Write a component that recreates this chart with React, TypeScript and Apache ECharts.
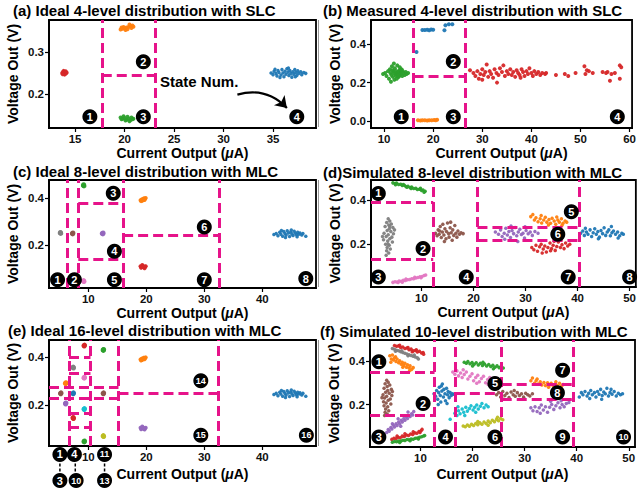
import React, { useEffect, useRef } from 'react';
import * as echarts from 'echarts';

const FONT = '"Liberation Sans", Arial, Helvetica, sans-serif';
const MAG = '#e6138a';
const COL: Record<string, string> = {
  blue: '#1f77b4', orange: '#ff7f0e', green: '#2ca02c', red: '#d62728', purple: '#9467bd',
  brown: '#8c564b', pink: '#e377c2', gray: '#7f7f7f', olive: '#bcbd22', cyan: '#17becf',
};

// ---------- titles & ticks ----------
const titles = [
  '(a) Ideal 4-level distribution with SLC',
  '(b) Measured 4-level distribution with SLC',
  '(c) Ideal 8-level distribution with MLC',
  '(d)Simulated 8-level distribution with MLC',
  '(e) Ideal 16-level distribution with MLC',
  '(f) Simulated 10-level distribution with MLC',
];
const xTicksA = [15, 20, 25, 30, 35];
const yTicksA = [0.2, 0.3];
const xTicksB = [10, 20, 30, 40, 50, 60];
const yTicksB = [0.0, 0.2, 0.4];
const xTicksC = [10, 20, 30, 40];
const yTicksC = [0.2, 0.4];
const xTicksD = [10, 20, 30, 40, 50];
const yTicksD = [0.2, 0.4];
const xTicksE = [10, 20, 30, 40];
const yTicksE = [0.2, 0.4];
const xTicksF = [10, 20, 30, 40, 50];
const yTicksF = [0.2, 0.4];

// ---------- panel (a) ----------
const aRed = [[13.7,0.250],[13.8,0.253],[13.9,0.248],[14.0,0.252],[14.1,0.249],[13.85,0.255],[13.95,0.246],[14.05,0.254],[13.75,0.247],[14.15,0.251]];
const aOrange = [[19.6,0.354],[19.8,0.356],[20.0,0.357],[20.2,0.359],[20.4,0.360],[20.6,0.362],[20.8,0.364],[19.9,0.360],[20.3,0.355],[20.5,0.366],[20.1,0.353],[20.7,0.358],[19.7,0.359],[20.9,0.361]];
const aGreen = [[19.6,0.143],[19.8,0.140],[20.0,0.142],[20.2,0.138],[20.4,0.141],[20.6,0.137],[20.8,0.139],[19.9,0.146],[20.3,0.145],[20.5,0.134],[20.1,0.136],[20.7,0.143],[19.7,0.139],[20.9,0.140]];
const aBlue = [[34.8,0.250],[35.0,0.246],[35.1,0.254],[35.3,0.249],[35.4,0.243],[35.5,0.256],[35.6,0.251],[35.8,0.245],[35.9,0.258],[36.0,0.250],[36.1,0.241],[36.2,0.254],[36.3,0.247],[36.4,0.260],[36.5,0.252],[36.6,0.244],[36.7,0.256],[36.8,0.249],[36.9,0.240],[37.0,0.253],[37.1,0.247],[37.2,0.258],[37.3,0.251],[37.4,0.244],[37.5,0.255],[37.6,0.249],[37.8,0.253],[37.9,0.246],[38.1,0.251],[38.3,0.249],[35.2,0.259],[35.7,0.239],[36.55,0.262],[37.25,0.241]];
const aBadges = [[16.5,0.145,'1'],[21.9,0.277,'2'],[21.9,0.145,'3'],[37.4,0.145,'4']];
const aFullX = [17.7, 23.1];
const aSegs = [[17.7, 23.1, 0.2456]];
const aArrow = [[31.4, 0.198], [36.4, 0.166]];

// ---------- panel (b) ----------
const bGreen = [[9.8,0.245],[10.5,0.235],[10.8,0.26],[11.0,0.22],[11.2,0.27],[11.3,0.25],[11.5,0.24],[11.6,0.285],[11.8,0.23],[11.9,0.26],[12.0,0.25],[12.1,0.215],[12.2,0.275],[12.3,0.245],[12.4,0.235],[12.5,0.26],[12.6,0.25],[12.7,0.29],[12.8,0.24],[12.9,0.255],[13.0,0.23],[13.1,0.265],[13.2,0.25],[13.3,0.24],[13.4,0.27],[13.5,0.245],[13.6,0.255],[13.7,0.235],[13.8,0.26],[14.0,0.25],[14.2,0.24],[14.4,0.255],[14.6,0.245],[12.0,0.3],[11.4,0.205],[12.6,0.22],[13.2,0.28],[11.7,0.265],[12.9,0.232],[13.6,0.268],[14.9,0.25],[10.2,0.25]];
const bBlue = [[16.6,0.36],[17.8,0.475],[18.3,0.475],[18.8,0.476],[19.2,0.474],[19.6,0.477],[20.0,0.476],[22.3,0.474],[22.5,0.5],[23.2,0.505],[23.9,0.505]];
const bOrange = [[16.9,0.003],[17.4,0.002],[17.8,0.004],[18.3,0.003],[18.8,0.002],[19.2,0.004],[19.7,0.003],[20.2,0.005],[20.8,0.006],[20.5,0.003]];
const bRed = [[27.5,0.265],[28.2,0.25],[28.6,0.235],[29.0,0.26],[29.3,0.22],[29.6,0.245],[30.0,0.27],[30.3,0.24],[30.6,0.255],[30.9,0.295],[31.2,0.23],[31.5,0.26],[31.8,0.245],[32.2,0.225],[32.5,0.27],[32.9,0.25],[33.3,0.24],[33.6,0.275],[34.0,0.255],[34.3,0.29],[34.6,0.235],[35.0,0.26],[35.3,0.245],[35.7,0.27],[36.0,0.24],[36.3,0.255],[36.7,0.23],[37.0,0.265],[37.3,0.25],[37.6,0.24],[38.0,0.27],[38.3,0.255],[38.6,0.235],[39.0,0.26],[39.3,0.245],[39.6,0.275],[40.0,0.25],[40.3,0.235],[40.6,0.26],[41.0,0.245],[41.4,0.255],[41.8,0.24],[42.2,0.25],[42.8,0.245],[45.0,0.24],[46.8,0.245],[47.5,0.235],[49.0,0.25],[50.8,0.285],[51.0,0.245],[51.3,0.265],[51.7,0.26],[52.5,0.25],[54.5,0.255],[55.2,0.25],[55.5,0.255],[56.0,0.21],[56.3,0.245],[57.0,0.25],[58.0,0.29],[58.3,0.28],[58.0,0.22],[33.0,0.2],[37.8,0.225],[30.0,0.215],[43.0,0.25]];
const bBadges = [[13.5,0.022,'1'],[24.1,0.31,'2'],[24.1,0.022,'3'],[57.5,0.022,'4']];
const bFullX = [16.0, 26.5];
const bSegs = [[16.0, 26.5, 0.235]];

// ---------- panel (c) ----------
const cGray = [[5.15,0.252],[5.25,0.25],[5.2,0.254]];
const cBrown = [[7.25,0.25],[7.35,0.252],[7.3,0.248]];
const cPurple = [[12.4,0.25],[12.55,0.252],[12.5,0.248]];
const cGreen = [[9.15,0.452],[9.25,0.45],[9.2,0.455]];
const cPink = [[9.15,0.049],[9.25,0.047],[9.2,0.051]];
const cOrange = [[19.0,0.39],[19.2,0.393],[19.4,0.395],[19.6,0.398],[19.8,0.396],[19.3,0.388],[19.7,0.391],[19.9,0.399],[19.1,0.386],[19.5,0.392]];
const cRed = [[19.0,0.112],[19.2,0.108],[19.4,0.114],[19.6,0.106],[19.8,0.11],[19.3,0.117],[19.7,0.103],[19.9,0.112],[19.1,0.105],[19.5,0.11]];
const cBlue = [[42.0,0.245],[42.4,0.25],[42.7,0.24],[43.0,0.255],[43.2,0.247],[43.5,0.238],[43.7,0.258],[43.9,0.25],[44.1,0.243],[44.3,0.261],[44.5,0.252],[44.7,0.237],[44.9,0.256],[45.1,0.248],[45.3,0.241],[45.5,0.259],[45.7,0.251],[45.9,0.244],[46.1,0.255],[46.3,0.247],[46.5,0.252],[46.8,0.243],[47.0,0.25],[47.5,0.238],[43.3,0.262],[44.0,0.233],[45.0,0.264],[46.0,0.236]];
const cBadges = [[4.7,0.055,'1'],[7.6,0.055,'2'],[14.3,0.419,'3'],[14.5,0.175,'4'],[14.5,0.055,'5'],[30,0.277,'6'],[30,0.055,'7'],[47.5,0.06,'8']];
const cFullX = [6.44, 8.27, 16.0, 32.6];
const cSegs = [[8.27, 16.0, 0.379], [8.27, 16.0, 0.141], [16.0, 32.6, 0.242]];

// ---------- panel (d) ----------
const dGreen = [[4.5,0.478],[4.9,0.475],[5.2,0.477],[5.6,0.471],[6.0,0.472],[6.3,0.466],[6.7,0.467],[7.0,0.462],[7.4,0.463],[7.8,0.457],[8.1,0.459],[8.5,0.452],[8.9,0.454],[9.2,0.448],[9.6,0.449],[10.0,0.444],[10.3,0.446],[10.7,0.44],[5.0,0.47],[6.5,0.471],[8.0,0.453],[9.8,0.453],[7.2,0.458],[10.5,0.436]];
const dGray = [[3.6,0.315],[3.9,0.305],[3.3,0.298],[4.2,0.292],[3.7,0.287],[3.0,0.28],[4.5,0.276],[3.8,0.27],[3.4,0.262],[4.1,0.258],[2.8,0.25],[4.6,0.247],[3.6,0.243],[3.2,0.235],[4.3,0.232],[3.9,0.225],[2.7,0.22],[3.5,0.214],[4.4,0.21],[3.1,0.2],[3.8,0.195],[3.4,0.185],[4.0,0.178],[3.3,0.17],[3.7,0.16],[3.2,0.15],[4.8,0.265],[2.5,0.235],[3.9,0.28],[3.6,0.2]];
const dPink = [[4.5,0.027],[4.9,0.03],[5.3,0.029],[5.7,0.033],[6.1,0.032],[6.5,0.036],[6.9,0.035],[7.3,0.039],[7.7,0.04],[8.1,0.043],[8.5,0.044],[8.9,0.047],[9.3,0.049],[9.7,0.052],[10.1,0.054],[10.5,0.058],[10.8,0.06],[5.5,0.026],[7.0,0.042],[8.7,0.05],[9.9,0.048],[6.3,0.028]];
const dBrown = [[12.7,0.25],[13.0,0.238],[13.2,0.265],[13.4,0.245],[13.6,0.28],[13.8,0.23],[14.0,0.255],[14.1,0.29],[14.3,0.242],[14.5,0.27],[14.7,0.225],[14.8,0.258],[15.0,0.296],[15.2,0.248],[15.3,0.232],[15.5,0.275],[15.7,0.252],[15.9,0.218],[16.0,0.265],[16.2,0.24],[16.4,0.285],[16.6,0.25],[16.8,0.232],[17.0,0.26],[17.3,0.245],[17.6,0.252],[18.0,0.248],[14.4,0.212],[15.6,0.3],[13.5,0.26]];
const dPurple = [[24.2,0.255],[24.8,0.245],[25.2,0.265],[25.5,0.235],[25.9,0.25],[26.2,0.272],[26.5,0.242],[26.8,0.258],[27.1,0.23],[27.4,0.262],[27.7,0.248],[28.0,0.276],[28.3,0.238],[28.6,0.255],[28.9,0.268],[29.2,0.244],[29.5,0.25],[29.8,0.228],[30.1,0.262],[30.5,0.247],[30.9,0.255],[31.3,0.24],[31.8,0.258],[32.4,0.25],[26.0,0.222],[28.5,0.212],[27.2,0.282],[29.9,0.279]];
const dOrange = [[31.0,0.325],[31.4,0.335],[31.7,0.31],[32.0,0.32],[32.4,0.302],[32.8,0.315],[33.1,0.296],[33.5,0.31],[33.8,0.322],[34.1,0.3],[34.5,0.312],[34.8,0.295],[35.1,0.318],[35.5,0.305],[35.8,0.29],[36.2,0.31],[36.5,0.3],[36.9,0.315],[37.2,0.295],[37.6,0.305],[37.9,0.3],[33.0,0.33],[34.4,0.287],[36.0,0.323],[37.0,0.286]];
const dRed = [[31.2,0.185],[31.6,0.175],[32.0,0.195],[32.3,0.168],[32.7,0.188],[33.0,0.2],[33.4,0.178],[33.7,0.192],[34.0,0.165],[34.3,0.185],[34.7,0.205],[35.0,0.18],[35.3,0.195],[35.7,0.172],[36.0,0.19],[36.3,0.21],[36.7,0.185],[37.0,0.198],[37.4,0.18],[37.7,0.205],[38.1,0.192],[38.5,0.2],[33.2,0.16],[35.5,0.213],[36.8,0.218],[34.8,0.17]];
const dBlue = [[40.6,0.25],[41.0,0.26],[41.3,0.24],[41.7,0.255],[42.0,0.245],[42.4,0.265],[42.7,0.235],[43.0,0.252],[43.3,0.27],[43.6,0.245],[43.9,0.258],[44.2,0.232],[44.5,0.262],[44.8,0.248],[45.1,0.275],[45.4,0.24],[45.7,0.255],[46.0,0.265],[46.3,0.238],[46.6,0.252],[46.9,0.26],[47.3,0.245],[47.7,0.255],[48.1,0.238],[48.5,0.25],[48.8,0.245],[41.5,0.272],[44.0,0.225],[46.5,0.28],[47.8,0.228]];
const dBadges = [[1.7,0.43,'1'],[10.3,0.18,'2'],[1.7,0.051,'3'],[18.6,0.051,'4'],[38.8,0.347,'5'],[36.2,0.245,'6'],[38.2,0.051,'7'],[50,0.051,'8']];
const dFullX = [12.25, 20.75, 40.3];
const dSegs = [[0.29, 12.25, 0.388], [0.29, 12.25, 0.132], [20.75, 40.3, 0.279], [20.75, 40.3, 0.218]];

// ---------- panel (e) ----------
const eRed1 = [[9.25,0.448],[9.35,0.45],[9.3,0.446]];
const eGray = [[7.35,0.357],[7.45,0.355],[7.4,0.359]];
const ePink = [[9.25,0.315],[9.35,0.317],[9.3,0.313]];
const eOrange = [[6.05,0.292],[6.15,0.294],[6.1,0.29]];
const eBrown1 = [[5.2,0.25],[5.3,0.252],[5.25,0.248]];
const eBlue1 = [[7.35,0.25],[7.45,0.252],[7.4,0.248]];
const ePurple1 = [[6.05,0.208],[6.15,0.21],[6.1,0.206]];
const eCyan = [[9.25,0.185],[9.35,0.187],[9.3,0.183]];
const eRed2 = [[7.35,0.148],[7.45,0.146],[7.4,0.15]];
const eGreen1 = [[9.25,0.051],[9.35,0.053],[9.3,0.049]];
const eGreen2 = [[12.55,0.43],[12.65,0.432],[12.6,0.428]];
const eBrown2 = [[12.55,0.25],[12.65,0.252],[12.6,0.248]];
const eOlive = [[12.55,0.073],[12.65,0.071],[12.6,0.075]];
const eOrange2 = [[19.0,0.39],[19.2,0.393],[19.4,0.395],[19.6,0.398],[19.8,0.396],[19.3,0.388],[19.7,0.391],[19.9,0.399],[19.1,0.386],[19.5,0.392]];
const ePurple2 = [[19.0,0.108],[19.2,0.104],[19.4,0.11],[19.6,0.102],[19.8,0.106],[19.3,0.113],[19.7,0.1],[19.9,0.108],[19.1,0.101],[19.5,0.106]];
const eBlue2 = [[42.0,0.245],[42.4,0.25],[42.7,0.24],[43.0,0.255],[43.2,0.247],[43.5,0.238],[43.7,0.258],[43.9,0.25],[44.1,0.243],[44.3,0.261],[44.5,0.252],[44.7,0.237],[44.9,0.256],[45.1,0.248],[45.3,0.241],[45.5,0.259],[45.7,0.251],[45.9,0.244],[46.1,0.255],[46.3,0.247],[46.5,0.252],[46.8,0.243],[47.0,0.25],[47.5,0.238],[43.3,0.262],[44.0,0.233],[45.0,0.264],[46.0,0.236]];
const eBadges = [[29.4,0.302,'14'],[29.4,0.077,'15'],[47.6,0.077,'16']];
const eBadgesBelow = [[5.1,-0.003,'1'],[5.1,-0.111,'3'],[7.6,-0.003,'4'],[7.9,-0.111,'10'],[12.8,-0.003,'11'],[12.8,-0.111,'13']];
const eConnectX = [5.1, 7.75, 12.8];
const eFullX = [6.67, 10.37, 15.2, 32.4];
const eSegs = [[6.67, 10.37, 0.40], [6.67, 10.37, 0.335], [3.22, 15.2, 0.275], [3.22, 15.2, 0.228], [6.67, 10.37, 0.167], [6.67, 10.37, 0.111], [15.2, 32.4, 0.25]];

// ---------- panel (f) ----------
const fRed1 = [[5.0,0.472],[5.4,0.468],[5.8,0.47],[6.2,0.463],[6.6,0.465],[7.0,0.458],[7.4,0.46],[7.8,0.452],[8.2,0.455],[8.6,0.447],[9.0,0.449],[9.4,0.442],[9.8,0.445],[10.2,0.437],[10.5,0.44],[6.0,0.473],[7.6,0.462],[9.2,0.452],[8.4,0.443],[10.6,0.432]];
const fGray = [[4.6,0.458],[5.0,0.454],[5.4,0.45],[5.8,0.448],[6.2,0.443],[6.6,0.44],[7.0,0.436],[7.4,0.433],[7.8,0.429],[8.2,0.426],[8.6,0.422],[9.0,0.419],[9.4,0.415],[5.2,0.445],[6.4,0.447],[7.6,0.425],[8.8,0.428],[9.6,0.41]];
const fOrange1 = [[4.1,0.425],[4.4,0.41],[4.6,0.428],[4.8,0.405],[5.0,0.415],[5.3,0.398],[5.5,0.41],[5.8,0.392],[6.0,0.402],[6.3,0.385],[6.5,0.395],[6.8,0.38],[7.0,0.39],[7.3,0.372],[7.5,0.383],[7.8,0.368],[8.0,0.378],[8.3,0.362],[8.6,0.37],[5.2,0.42],[6.6,0.372],[7.9,0.356],[4.3,0.395]];
const fBrown1 = [[3.5,0.312],[3.8,0.303],[3.2,0.296],[4.1,0.29],[3.6,0.283],[3.0,0.275],[4.4,0.27],[3.7,0.265],[3.3,0.257],[4.0,0.252],[2.8,0.245],[4.5,0.242],[3.5,0.238],[3.1,0.23],[4.2,0.226],[3.8,0.22],[2.9,0.213],[3.4,0.207],[4.3,0.203],[3.0,0.195],[3.7,0.19],[3.3,0.18],[3.9,0.172],[3.2,0.165],[3.6,0.157],[3.1,0.15],[4.6,0.26],[2.6,0.232]];
const fPurple1 = [[3.5,0.072],[3.8,0.085],[4.0,0.078],[4.3,0.095],[4.5,0.088],[4.8,0.105],[5.0,0.097],[5.3,0.112],[5.5,0.104],[5.8,0.12],[6.0,0.112],[6.3,0.128],[6.5,0.12],[6.8,0.136],[7.0,0.128],[7.3,0.143],[7.5,0.136],[7.8,0.15],[8.0,0.145],[8.3,0.158],[8.5,0.152],[4.6,0.112],[6.2,0.1],[7.6,0.166],[5.7,0.135],[8.7,0.168]];
const fRed2 = [[4.5,0.04],[4.9,0.045],[5.3,0.043],[5.7,0.05],[6.1,0.048],[6.5,0.055],[6.9,0.053],[7.3,0.06],[7.7,0.058],[8.1,0.065],[8.5,0.063],[8.9,0.07],[9.3,0.068],[9.7,0.076],[10.1,0.08],[10.3,0.086],[5.5,0.055],[7.0,0.066],[8.6,0.075],[9.9,0.072]];
const fGreen1 = [[4.6,0.027],[5.0,0.03],[5.4,0.029],[5.8,0.033],[6.2,0.032],[6.6,0.036],[7.0,0.035],[7.4,0.039],[7.8,0.038],[8.2,0.042],[8.6,0.041],[9.0,0.045],[9.4,0.046],[9.8,0.05],[10.2,0.052],[10.6,0.056],[10.8,0.058],[6.0,0.026],[8.0,0.034],[9.6,0.042]];
const fBlue1 = [[12.6,0.25],[12.9,0.238],[13.1,0.265],[13.3,0.225],[13.5,0.255],[13.6,0.28],[13.8,0.242],[13.9,0.212],[14.1,0.262],[14.2,0.295],[14.4,0.235],[14.5,0.27],[14.7,0.25],[14.8,0.218],[15.0,0.275],[15.2,0.245],[15.3,0.26],[15.5,0.232],[15.7,0.255],[15.9,0.242],[16.1,0.25],[16.4,0.248],[13.4,0.2],[14.0,0.285],[15.1,0.205]];
const fGreen2 = [[18.4,0.395],[18.8,0.39],[19.1,0.398],[19.5,0.388],[19.9,0.394],[20.3,0.385],[20.7,0.392],[21.1,0.382],[21.5,0.39],[21.9,0.38],[22.3,0.387],[22.7,0.377],[23.1,0.384],[23.5,0.375],[23.9,0.381],[24.3,0.372],[24.7,0.378],[25.1,0.37],[25.5,0.376],[25.9,0.368],[20.0,0.378],[22.0,0.395],[24.0,0.365]];
const fPink = [[16.2,0.35],[16.6,0.34],[17.0,0.355],[17.3,0.332],[17.7,0.345],[18.0,0.325],[18.4,0.338],[18.8,0.35],[19.1,0.318],[19.5,0.33],[19.9,0.342],[20.2,0.31],[20.6,0.325],[21.0,0.335],[21.3,0.305],[21.7,0.32],[22.1,0.33],[22.5,0.3],[22.9,0.315],[23.3,0.325],[23.7,0.305],[24.2,0.31],[18.2,0.36],[20.8,0.298],[23.0,0.292]];
const fCyan = [[16.6,0.16],[17.0,0.15],[17.3,0.172],[17.6,0.158],[18.0,0.18],[18.3,0.165],[18.7,0.188],[19.0,0.17],[19.4,0.182],[19.7,0.195],[20.1,0.175],[20.4,0.188],[20.8,0.198],[21.1,0.18],[21.5,0.192],[21.8,0.205],[22.2,0.185],[22.6,0.198],[23.0,0.19],[18.5,0.15],[20.6,0.165],[17.2,0.19],[15.7,0.133]];
const fOlive = [[18.2,0.102],[18.6,0.098],[19.0,0.106],[19.4,0.1],[19.8,0.11],[20.2,0.104],[20.6,0.113],[21.0,0.107],[21.4,0.116],[21.8,0.11],[22.2,0.12],[22.6,0.113],[23.0,0.124],[23.4,0.117],[23.8,0.128],[24.2,0.121],[24.6,0.132],[25.0,0.126],[25.4,0.136],[25.8,0.13],[21.0,0.122],[23.0,0.105],[24.8,0.142]];
const fBrown2 = [[24.6,0.245],[25.0,0.255],[25.4,0.235],[25.8,0.26],[26.2,0.242],[26.6,0.252],[27.0,0.232],[27.4,0.258],[27.8,0.245],[28.2,0.238],[28.6,0.255],[29.0,0.242],[29.4,0.25],[29.8,0.235],[30.2,0.252],[30.6,0.245],[31.0,0.24],[31.5,0.25],[26.0,0.225],[28.0,0.265],[29.9,0.228]];
const fOrange2 = [[31.2,0.31],[31.5,0.322],[31.9,0.298],[32.2,0.31],[32.6,0.295],[33.0,0.305],[33.3,0.29],[33.7,0.302],[34.0,0.288],[34.4,0.3],[34.8,0.29],[35.1,0.298],[35.5,0.285],[35.9,0.295],[36.3,0.288],[36.7,0.298],[37.1,0.285],[37.4,0.292],[32.4,0.318],[34.6,0.28],[36.0,0.305]];
const fPurple2 = [[31.2,0.185],[31.6,0.172],[32.0,0.19],[32.4,0.168],[32.8,0.185],[33.2,0.198],[33.6,0.175],[34.0,0.19],[34.4,0.165],[34.8,0.188],[35.2,0.2],[35.6,0.178],[36.0,0.195],[36.4,0.208],[36.8,0.185],[37.2,0.2],[37.6,0.19],[38.0,0.205],[38.5,0.21],[33.0,0.16],[35.0,0.215],[37.0,0.218],[38.7,0.222]];
const fBlue2 = [[40.5,0.235],[40.9,0.255],[41.2,0.245],[41.6,0.26],[42.0,0.24],[42.3,0.252],[42.7,0.265],[43.0,0.245],[43.4,0.255],[43.7,0.235],[44.0,0.26],[44.3,0.248],[44.6,0.27],[44.9,0.242],[45.2,0.258],[45.5,0.25],[45.8,0.275],[46.1,0.24],[46.4,0.255],[46.8,0.248],[47.2,0.26],[47.6,0.24],[48.0,0.252],[48.4,0.245],[48.8,0.25],[42.5,0.228],[44.8,0.225],[46.6,0.27]];
const fBadges = [[2,0.397,'1'],[10.5,0.205,'2'],[2,0.051,'3'],[14.8,0.051,'4'],[24.3,0.297,'5'],[24.3,0.051,'6'],[37.3,0.358,'7'],[36.3,0.255,'8'],[37.3,0.051,'9'],[49,0.051,'10']];
const fFullX = [12.7, 16.6, 25.6, 39.4];
const fSegs = [[0.3, 12.7, 0.348], [0.3, 12.7, 0.151], [16.6, 25.6, 0.251], [25.6, 39.4, 0.293], [25.6, 39.4, 0.224]];

// ---------- layout (pixels) ----------
const grids = [
  { left: 49, top: 20, width: 267, height: 108 },
  { left: 371, top: 20, width: 266, height: 108 },
  { left: 49, top: 180, width: 267, height: 108 },
  { left: 371, top: 180, width: 265, height: 107 },
  { left: 49, top: 340, width: 267, height: 106 },
  { left: 370, top: 340, width: 265, height: 107 },
];
const titlePos = [
  { left: 13, top: 3 }, { left: 323, top: 3 },
  { left: 13, top: 164 }, { left: 323, top: 165 },
  { left: 8, top: 323 }, { left: 320, top: 324 },
];
const ranges = [
  { x: [12.37, 39.34], y: [0.118, 0.377], xt: xTicksA, yt: yTicksA, xGap: 6 },
  { x: [7.34, 60.5], y: [-0.037, 0.527], xt: xTicksB, yt: yTicksB, xGap: 17 },
  { x: [3.22, 49.26], y: [0.02, 0.475], xt: xTicksC, yt: yTicksC, xGap: 6 },
  { x: [0.29, 51.2], y: [0.006, 0.491], xt: xTicksD, yt: yTicksD, xGap: 17 },
  { x: [3.22, 49.26], y: [0.032, 0.471], xt: xTicksE, yt: yTicksE, xGap: 21 },
  { x: [0.3, 51.2], y: [0.005, 0.497], xt: xTicksF, yt: yTicksF, xGap: 20 },
];

function scatter(gi: number, data: number[][], color: string, size = 3.5): any {
  return {
    type: 'scatter', xAxisIndex: gi, yAxisIndex: gi, data, symbolSize: size,
    itemStyle: { color, opacity: 0.95 }, silent: true, z: 3,
  };
}
function dashes(gi: number, full: number[], segs: number[][]): any {
  return {
    type: 'scatter', xAxisIndex: gi, yAxisIndex: gi, data: [], silent: true, z: 5,
    markLine: {
      silent: true, symbol: ['none', 'none'], label: { show: false }, animation: false,
      lineStyle: { color: MAG, width: 3, type: [10, 5], opacity: 1 },
      emphasis: { disabled: true },
      data: [
        ...full.map((v) => ({ xAxis: v })),
        ...segs.map((s) => [{ coord: [s[0], s[2]] }, { coord: [s[1], s[2]] }]),
      ],
    },
  };
}
function badges(gi: number, pts: any[]): any {
  return {
    type: 'scatter', xAxisIndex: gi, yAxisIndex: gi, clip: false, silent: true, z: 10,
    symbolSize: 15, itemStyle: { color: '#000', opacity: 1 },
    data: pts.map((p) => {
      const name = String(p[2]);
      return {
        value: [p[0], p[1]], name,
        label: name.length > 1 ? { fontSize: 9, letterSpacing: -1 } : { fontSize: 11 },
      };
    }),
    label: {
      show: true, position: 'inside', formatter: '{b}', color: '#fff', fontWeight: 'bold',
      fontFamily: FONT, fontSize: 11,
    },
  };
}

export default function App() {
  const ref = useRef<HTMLDivElement>(null);
  useEffect(() => {
    if (!ref.current) return;
    const chart = echarts.init(ref.current, undefined, { renderer: 'svg' });
    const xAxis = ranges.map((r, gi) => ({
      type: 'value', gridIndex: gi, min: r.x[0], max: r.x[1],
      name: '{n|Current Output (}{i|μ}{n|A)}', nameLocation: 'middle', nameGap: r.xGap,
      nameTextStyle: {
        rich: {
          n: { fontSize: 14, fontWeight: 'bold', fontFamily: FONT, color: '#000' },
          i: { fontSize: 14, fontWeight: 'bold', fontStyle: 'italic', fontFamily: FONT, color: '#000' },
        },
      },
      splitLine: { show: false },
      axisLine: { show: true, onZero: false, lineStyle: { color: '#000', width: 1.8 } },
      axisTick: { show: true, length: 4, lineStyle: { color: '#000', width: 1.2 }, customValues: r.xt },
      axisLabel: {
        customValues: r.xt, margin: 5, fontSize: 11.5, fontWeight: 'bold', color: '#111',
        fontFamily: FONT, formatter: (v: number) => String(Math.round(v)),
      },
    }));
    const yAxis = ranges.map((r, gi) => ({
      type: 'value', gridIndex: gi, min: r.y[0], max: r.y[1],
      name: 'Voltage Out (V)', nameLocation: 'middle', nameGap: 29,
      nameTextStyle: { fontSize: 14, fontWeight: 'bold', fontFamily: FONT, color: '#000' },
      splitLine: { show: false },
      axisLine: { show: true, onZero: false, lineStyle: { color: '#000', width: 1.8 } },
      axisTick: { show: true, length: 4, lineStyle: { color: '#000', width: 1.2 }, customValues: r.yt },
      axisLabel: {
        customValues: r.yt, margin: 5, fontSize: 11.5, fontWeight: 'bold', color: '#111',
        fontFamily: FONT, formatter: (v: number) => v.toFixed(1),
      },
    }));

    const series: any[] = [
      // (a)
      scatter(0, aRed, COL.red, 4), scatter(0, aOrange, COL.orange, 4), scatter(0, aGreen, COL.green, 4),
      scatter(0, aBlue, COL.blue, 3.5),
      dashes(0, aFullX, aSegs), badges(0, aBadges),
      {
        type: 'lines', coordinateSystem: 'cartesian2d', xAxisIndex: 0, yAxisIndex: 0, silent: true, z: 6,
        symbol: ['none', 'arrow'], symbolSize: 11,
        lineStyle: { color: '#000', width: 2.2, curveness: 0.3, opacity: 1 },
        data: [{ coords: aArrow }],
      },
      // (b)
      scatter(1, bGreen, COL.green, 4), scatter(1, bBlue, COL.blue, 4), scatter(1, bOrange, COL.orange, 4),
      scatter(1, bRed, COL.red, 4),
      dashes(1, bFullX, bSegs), badges(1, bBadges),
      // (c)
      scatter(2, cGray, COL.gray, 5), scatter(2, cBrown, COL.brown, 5), scatter(2, cPurple, COL.purple, 5),
      scatter(2, cGreen, COL.green, 5), scatter(2, cPink, COL.pink, 5),
      scatter(2, cOrange, COL.orange, 4), scatter(2, cRed, COL.red, 4), scatter(2, cBlue, COL.blue, 3.5),
      dashes(2, cFullX, cSegs), badges(2, cBadges),
      // (d)
      scatter(3, dGreen, COL.green, 3.5), scatter(3, dGray, COL.gray, 3.5), scatter(3, dPink, COL.pink, 3.5),
      scatter(3, dBrown, COL.brown, 3.5), scatter(3, dPurple, COL.purple, 3.5), scatter(3, dOrange, COL.orange, 3.5),
      scatter(3, dRed, COL.red, 3.5), scatter(3, dBlue, COL.blue, 3.5),
      dashes(3, dFullX, dSegs), badges(3, dBadges),
      // (e)
      scatter(4, eRed1, COL.red, 5), scatter(4, eGray, COL.gray, 5), scatter(4, ePink, COL.pink, 5),
      scatter(4, eOrange, COL.orange, 5), scatter(4, eBrown1, COL.brown, 5), scatter(4, eBlue1, COL.blue, 5),
      scatter(4, ePurple1, COL.purple, 5), scatter(4, eCyan, COL.cyan, 5), scatter(4, eRed2, COL.red, 5),
      scatter(4, eGreen1, COL.green, 5), scatter(4, eGreen2, COL.green, 5), scatter(4, eBrown2, COL.brown, 5),
      scatter(4, eOlive, COL.olive, 5), scatter(4, eOrange2, COL.orange, 4), scatter(4, ePurple2, COL.purple, 4),
      scatter(4, eBlue2, COL.blue, 3.5),
      dashes(4, eFullX, eSegs), badges(4, eBadges), badges(4, eBadgesBelow),
      ...eConnectX.map((x) => ({
        type: 'line', xAxisIndex: 4, yAxisIndex: 4, clip: false, silent: true, symbol: 'none', z: 9,
        lineStyle: { color: '#000', width: 1.5, type: [3, 2] },
        data: [[x, -0.04], [x, -0.08]],
      })),
      // (f)
      scatter(5, fRed1, COL.red, 3.5), scatter(5, fGray, COL.gray, 3.5), scatter(5, fOrange1, COL.orange, 3.5),
      scatter(5, fBrown1, COL.brown, 3.5), scatter(5, fPurple1, COL.purple, 3.5), scatter(5, fRed2, COL.red, 3.5),
      scatter(5, fGreen1, COL.green, 3.5), scatter(5, fBlue1, COL.blue, 3.5), scatter(5, fGreen2, COL.green, 3.5),
      scatter(5, fPink, COL.pink, 3.5), scatter(5, fCyan, COL.cyan, 3.5), scatter(5, fOlive, COL.olive, 3.5),
      scatter(5, fBrown2, COL.brown, 3.5), scatter(5, fOrange2, COL.orange, 3.5), scatter(5, fPurple2, COL.purple, 3.5),
      scatter(5, fBlue2, COL.blue, 3.5),
      dashes(5, fFullX, fSegs), badges(5, fBadges),
    ];

    chart.setOption({
      animation: false,
      backgroundColor: '#fff',
      title: titles.map((t, i) => ({
        text: t, left: titlePos[i].left, top: titlePos[i].top, padding: 0,
        textStyle: { fontSize: 15, fontWeight: 'bold', fontFamily: FONT, color: '#000' },
      })),
      grid: grids.map((g) => ({ ...g, show: true, borderColor: '#000', borderWidth: 1.8, backgroundColor: 'transparent', containLabel: false })),
      xAxis, yAxis, series,
      graphic: [
        { type: 'text', left: 160, top: 74, silent: true, style: { text: 'State Num.', font: `bold 15px ${FONT}`, fill: '#000' } },
        { type: 'line', silent: true, shape: { x1: 318.5, y1: 20, x2: 318.5, y2: 127 }, style: { stroke: '#999', lineWidth: 1 } },
        { type: 'line', silent: true, shape: { x1: 318.5, y1: 180, x2: 318.5, y2: 287 }, style: { stroke: '#999', lineWidth: 1 } },
        { type: 'line', silent: true, shape: { x1: 318.5, y1: 340, x2: 318.5, y2: 446 }, style: { stroke: '#999', lineWidth: 1 } },
      ],
    });
    return () => chart.dispose();
  }, []);
  return <div ref={ref} style={{ position: 'fixed', left: 0, top: 0, width: 639, height: 491, background: '#fff' }} />;
}
